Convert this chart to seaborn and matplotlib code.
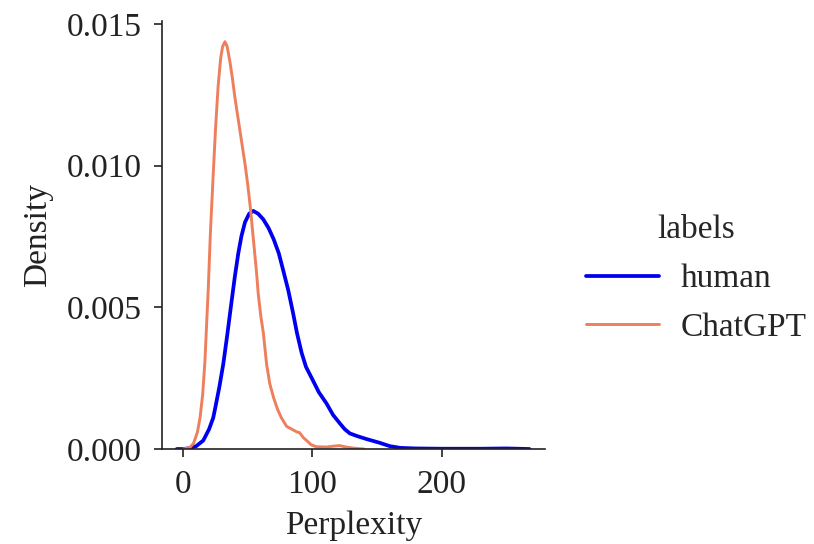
import matplotlib
matplotlib.use("Agg")
import matplotlib.pyplot as plt
import pandas as pd
import seaborn as sns

# Estimated perplexity density curves for the two text sources
human_x = [-5, 0, 5, 10, 15.5, 20, 23.2, 25, 28, 31, 34, 37.4, 40, 42.6, 45, 47.8, 51,
           54.2, 58, 62, 66, 70, 74, 77.4, 81.3, 85, 88, 91.6, 95, 100.6, 105, 111,
           116, 121.3, 125, 129, 135, 142, 152, 160, 168, 180, 200, 230, 250, 268]
human_y = [0.0, 0.0, 0.00003, 0.0001, 0.0003, 0.0007, 0.0011, 0.0015, 0.0022, 0.0030,
           0.0040, 0.0052, 0.0061, 0.0069, 0.0075, 0.0080, 0.0083, 0.0084, 0.0083,
           0.0081, 0.0078, 0.0074, 0.0069, 0.0063, 0.0056, 0.0048, 0.0041, 0.0034,
           0.0029, 0.0024, 0.0020, 0.0016, 0.0012, 0.0009, 0.0007, 0.00055, 0.00045,
           0.00035, 0.00022, 0.0001, 0.00004, 0.00002, 0.00001, 0.00001, 0.00002, 0.0]

chatgpt_x = [0, 5, 8, 11, 13, 15, 16.8, 18, 19.5, 21, 23, 25, 27, 29, 30.5, 32.3, 34,
             36, 38, 40, 44, 48, 50, 52, 54.5, 56.8, 58, 60, 62, 64.5, 67, 70, 73, 76,
             80, 84, 88, 90, 93, 95.5, 99, 103, 111, 116, 121, 126, 132, 140]
chatgpt_y = [0.0, 0.00005, 0.0002, 0.0006, 0.0011, 0.0019, 0.0031, 0.0043, 0.0058,
             0.0076, 0.0095, 0.0113, 0.0128, 0.0138, 0.0142, 0.01437, 0.0142, 0.0137,
             0.0131, 0.0124, 0.0112, 0.0100, 0.0093, 0.0085, 0.0073, 0.0062, 0.0055,
             0.0047, 0.0041, 0.0030, 0.0023, 0.0018, 0.0014, 0.0011, 0.0008, 0.0007,
             0.0006, 0.00058, 0.0004, 0.0003, 0.00015, 0.00008, 0.00007, 0.0001,
             0.00012, 0.00007, 0.00003, 0.0]

labels = ["human", "ChatGPT"]
colors = ["#0000F0", "#EE7F5C"]
widths = [2.7, 2.1]

df = pd.concat([
    pd.DataFrame({"Perplexity": human_x, "Density": human_y, "labels": labels[0]}),
    pd.DataFrame({"Perplexity": chatgpt_x, "Density": chatgpt_y, "labels": labels[1]}),
], ignore_index=True)

sns.set_theme(style="ticks")
plt.rcParams["font.family"] = ["Liberation Serif", "DejaVu Serif"]
plt.rcParams["font.size"] = 24

fig = plt.figure(figsize=(8.14, 5.44), dpi=100)
ax = fig.add_axes([0.1986, 0.1746, 0.4709, 0.7868])

sns.lineplot(data=df, x="Perplexity", y="Density", hue="labels",
             palette=dict(zip(labels, colors)), linewidth=2.2, ax=ax,
             sort=False, estimator=None)
for line, lw in zip(ax.lines, widths):
    line.set_linewidth(lw)
    line.set_solid_joinstyle("round")

ax.set_xlim(-16.7, 280)
ax.set_ylim(0, 0.0151)
ax.set_xticks([0, 100, 200])
ax.set_yticks([0.0, 0.005, 0.010, 0.015])
ax.set_yticklabels(["0.000", "0.005", "0.010", "0.015"])
ax.tick_params(axis="both", labelsize=24, length=5.5, width=1.2, colors="#222222",
               labelcolor="#222222", pad=9)
ax.set_xlabel("Perplexity", fontsize=24, color="#222222", labelpad=8)
ax.set_ylabel("Density", fontsize=24, color="#222222", labelpad=10)
for s in ["left", "bottom"]:
    ax.spines[s].set_linewidth(1.2)
    ax.spines[s].set_color("#222222")
sns.despine(ax=ax)

handles, lbls = ax.get_legend_handles_labels()
for h, lw in zip(handles, widths):
    h.set_linewidth(lw)
ax.legend_.remove()
fig.legend(handles, lbls, title="labels", loc="center left",
           bbox_to_anchor=(0.683, 0.487), frameon=False, fontsize=24,
           title_fontsize=24, handlelength=2.2, handletextpad=0.65,
           labelspacing=0.55)

fig.savefig("out.png", dpi=100)
